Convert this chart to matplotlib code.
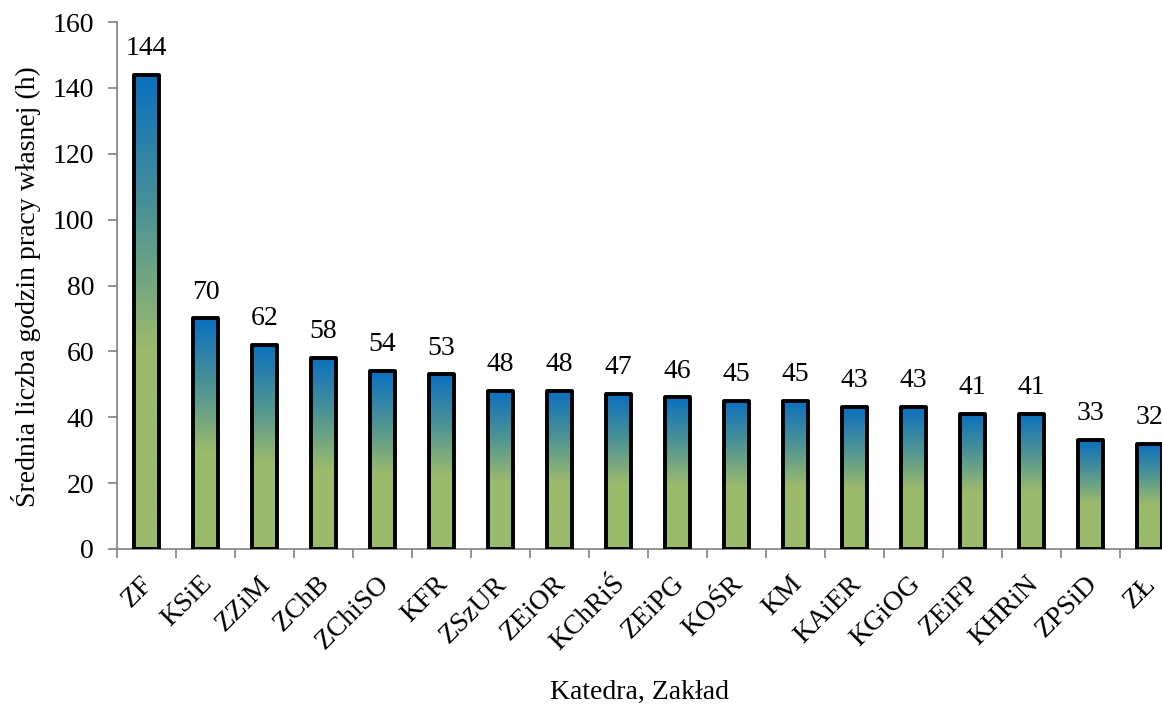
import numpy as np
import matplotlib.pyplot as plt
from matplotlib.colors import LinearSegmentedColormap
from matplotlib.transforms import ScaledTranslation

# dane
katedry = ["ZF", "KSiE", "ZZiM", "ZChB", "ZChiSO", "KFR", "ZSzUR", "ZEiOR", "KChRiŚ",
           "ZEiPG", "KOŚR", "KM", "KAiER", "KGiOG", "ZEiFP", "KHRiN", "ZPSiD", "ZŁ"]
godziny = [144, 70, 62, 58, 54, 53, 48, 48, 47, 46, 45, 45, 43, 43, 41, 41, 33, 32]

plt.rcParams['font.family'] = ['Liberation Serif', 'DejaVu Serif']

fig = plt.figure(figsize=(11.62, 7.08), dpi=100)
ax = fig.add_axes([117/1162, 159/708, 1062/1162, 527/708])

# gradient zielony -> niebieski
cmap = LinearSegmentedColormap.from_list(
    "gr", [(0.0, "#9bbb6c"), (0.42, "#9bbb6c"), (0.7, "#4f9494"), (1.0, "#0a6fbf")])
grad = np.linspace(0, 1, 256).reshape(-1, 1)

x = np.arange(len(katedry))
bars = ax.bar(x, godziny, width=0.44, color="none", edgecolor="black",
              linewidth=2.8, joinstyle="round", zorder=3)
for b in bars:
    x0, w, h = b.get_x(), b.get_width(), b.get_height()
    im = ax.imshow(grad, cmap=cmap, origin="lower", aspect="auto",
                   extent=(x0, x0 + w, 0, h), zorder=2)
    im.set_clip_path(b)

for xi, v in zip(x, godziny):
    ax.annotate(str(v), (xi, v), xytext=(0, 10), textcoords="offset points",
                ha="center", va="bottom", fontsize=20)

ax.set_xlim(-0.5, len(katedry) - 0.5)
ax.set_ylim(0, 160)
ax.set_yticks(range(0, 161, 20))
ax.set_xticks(x)
ax.set_xticks(np.arange(-0.5, len(katedry), 1), minor=True)
ax.tick_params(axis="x", which="major", length=0, pad=16)
ax.tick_params(axis="x", which="minor", length=6.5, color="#808080", width=1.2)
ax.tick_params(axis="y", length=6.5, color="#808080", width=1.2, labelsize=20, pad=10)
ax.set_xticklabels(katedry, rotation=45, ha="right", va="top",
                   rotation_mode="anchor", fontsize=20)
# etykiety troche w lewo
przes = ScaledTranslation(-6/100, 0, fig.dpi_scale_trans)
for lab in ax.get_xticklabels():
    lab.set_transform(lab.get_transform() + przes)

for s in ["top", "right"]:
    ax.spines[s].set_visible(False)
for s in ["left", "bottom"]:
    ax.spines[s].set_color("#808080")
    ax.spines[s].set_linewidth(1.2)

fig.text(26/1162, 1 - 287/708, "Średnia liczba godzin pracy własnej (h)",
         rotation=90, ha="center", va="center", fontsize=20)
fig.text(640/1162, 1 - 692/708, "Katedra, Zakład", ha="center", va="center", fontsize=20)

fig.savefig("out.png", dpi=100)
